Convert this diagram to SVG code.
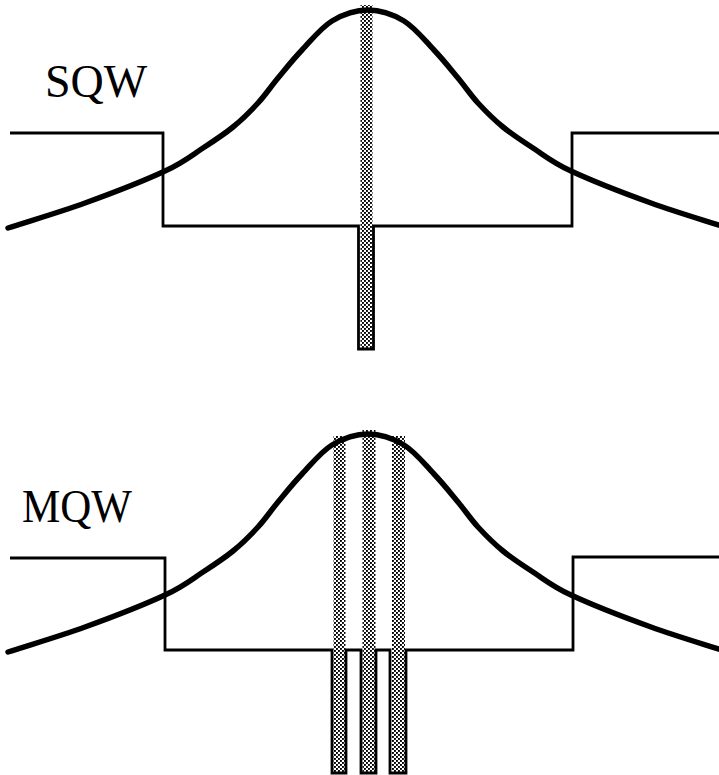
<svg xmlns="http://www.w3.org/2000/svg" xmlns:xlink="http://www.w3.org/1999/xlink" width="719" height="775" viewBox="0 0 719 775">
<style>
.lbl{font-family:"Liberation Serif","Times New Roman",serif;font-size:46px;fill:#000}
.band{fill:none;stroke:#000;stroke-width:2.8;stroke-linejoin:miter}
.mode{fill:none;stroke:#000;stroke-width:5.5;stroke-linecap:round}
.qw{fill:url(#dots);stroke:none}
</style>
<defs>
<pattern id="dots" width="4" height="4" patternUnits="userSpaceOnUse">
<rect width="4" height="4" fill="#fff"/>
<rect x="0" y="0" width="1.9" height="1.9" fill="#000"/>
<rect x="2" y="2" width="1.9" height="1.9" fill="#000"/>
</pattern>
<path id="modeCurve" d="M8,228 C33.7,219.7 58.8,212.5 85,203 C111.2,193.5 145.3,180.2 165,171 C184.7,161.8 191.7,155.3 203,148 C214.3,140.7 223.8,134.5 233,127 C242.2,119.5 250.5,111.2 258,103 C265.5,94.8 270.7,86.8 278,78 C285.3,69.2 293,59.5 302,50 C311,40.5 321,27.7 332,21 C343,14.3 356,10 368,10 C380,10 393,14.3 404,21 C415,27.7 425,40.5 434,50 C443,59.5 450.7,69.2 458,78 C465.3,86.8 470.5,94.8 478,103 C485.5,111.2 493.8,119.5 503,127 C512.2,134.5 521.7,140.7 533,148 C544.3,155.3 551.3,161.8 571,171 C590.7,180.2 624.8,193.5 651,203 C677.2,212.5 702.3,219.7 728,228"/>
</defs>
<rect width="719" height="775" fill="#fff"/>

<g id="sqw">
  <g id="sqw-label"><text class="lbl" x="45" y="97">SQW</text></g>
  <g id="sqw-well"><rect class="qw" x="360.5" y="5" width="12" height="344"/></g>
  <g id="sqw-band"><path class="band" d="M10,133 H163 V226 H358.5 V349 H373.5 V226 H572 V133 H719"/></g>
  <g id="sqw-mode"><use xlink:href="#modeCurve" class="mode"/></g>
</g>

<g id="mqw">
  <g id="mqw-label"><text class="lbl" x="22" y="522" textLength="110" lengthAdjust="spacingAndGlyphs">MQW</text></g>
  <g id="mqw-wells">
    <rect class="qw" x="333.5" y="436" width="12" height="337"/>
    <rect class="qw" x="362.5" y="430" width="13" height="343"/>
    <rect class="qw" x="392" y="436" width="13" height="337"/>
  </g>
  <g id="mqw-band"><path class="band" d="M10,558 H165 V650 H332 V773 H346 V650 H361 V773 H376 V650 H390 V773 H406 V650 H573 V557 H719"/></g>
  <g id="mqw-mode"><use xlink:href="#modeCurve" class="mode" transform="translate(0,424)"/></g>
</g>
</svg>
